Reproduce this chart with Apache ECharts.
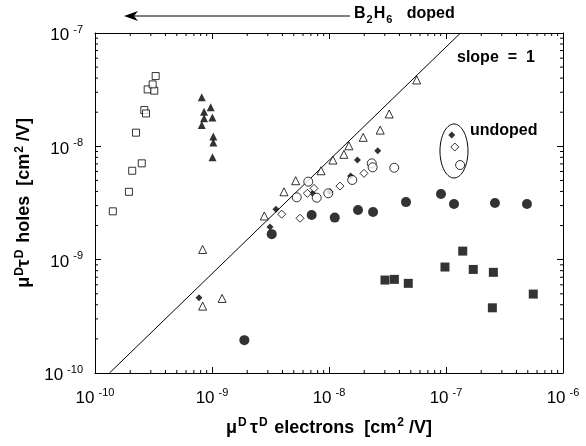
<!DOCTYPE html>
<html><head><meta charset="utf-8">
<script src="https://cdn.jsdelivr.net/npm/echarts@6/dist/echarts.min.js"></script>
<style>html,body{margin:0;padding:0;background:#fff}#c{width:586px;height:446px}</style>
</head><body><div id="c"></div>
<script>
// ---- data ----
const openSquareX = [1.42e-10, 1.95e-10, 2.08e-10, 2.51e-10, 2.24e-10, 2.64e-10, 2.73e-10, 2.82e-10, 3.21e-10, 3.11e-10, 3.30e-10];
const openSquareY = [2.67e-9, 3.97e-9, 6.09e-9, 7.08e-9, 1.32e-8, 2.09e-8, 1.95e-8, 3.18e-8, 3.10e-8, 3.52e-8, 4.17e-8];

const filledTriangleX = [8.17e-10, 9.75e-10, 8.55e-10, 1.007e-9, 8.55e-10, 8.17e-10, 1.026e-9, 1.026e-9, 1.01e-9];
const filledTriangleY = [2.71e-8, 2.21e-8, 2.02e-8, 1.80e-8, 1.77e-8, 1.54e-8, 1.22e-8, 1.08e-8, 8.0e-9];

const openTriangleX = [8.32e-10, 8.32e-10, 1.22e-9, 2.80e-9, 4.12e-9, 5.19e-9, 8.55e-9, 1.08e-8, 1.34e-8, 1.48e-8, 1.96e-8, 2.74e-8, 3.27e-8, 5.62e-8];
const openTriangleY = [1.23e-9, 3.89e-10, 4.55e-10, 2.43e-9, 3.97e-9, 4.97e-9, 6.09e-9, 7.57e-9, 8.5e-9, 1.01e-8, 1.20e-8, 1.39e-8, 1.93e-8, 3.85e-8];

const filledCircleX = [1.89e-9, 3.24e-9, 7.11e-9, 1.12e-8, 1.77e-8, 2.38e-8, 4.55e-8, 9.06e-8, 1.17e-7, 2.62e-7, 4.92e-7];
const filledCircleY = [1.95e-10, 1.68e-9, 2.48e-9, 2.35e-9, 2.74e-9, 2.63e-9, 3.22e-9, 3.79e-9, 3.10e-9, 3.16e-9, 3.10e-9];

const filledSquareX = [3.01e-8, 3.62e-8, 4.76e-8, 9.8e-8, 1.39e-7, 1.71e-7, 2.54e-7, 2.49e-7, 5.57e-7];
const filledSquareY = [6.61e-10, 6.70e-10, 6.18e-10, 8.61e-10, 1.19e-9, 8.2e-10, 7.73e-10, 3.76e-10, 4.97e-10];

const filledDiamondX = [7.74e-10, 3.13e-9, 3.52e-9, 7.24e-9, 1.02e-8, 1.53e-8, 1.75e-8, 2.61e-8, 1.12e-7];
const filledDiamondY = [4.61e-10, 1.94e-9, 2.78e-9, 3.85e-9, 3.97e-9, 5.46e-9, 7.57e-9, 9.14e-9, 1.26e-8];

const openDiamondX = [3.94e-9, 5.65e-9, 6.53e-9, 7.45e-9, 1.24e-8, 1.99e-8, 1.19e-7];
const openDiamondY = [2.52e-9, 2.32e-9, 3.85e-9, 4.26e-9, 4.46e-9, 5.78e-9, 9.86e-9];

const openCircleX = [5.3e-9, 6.65e-9, 7.85e-9, 9.86e-9, 1.58e-8, 2.32e-8, 2.36e-8, 3.61e-8, 1.32e-7];
const openCircleY = [3.55e-9, 4.88e-9, 3.52e-9, 3.85e-9, 5.05e-9, 7.08e-9, 6.53e-9, 6.47e-9, 6.84e-9];

const slopeLineX = [1.33e-10, 1.33e-7];
const slopeLineY = [1e-10, 1e-7];

const undopedCenter = [1.17e-7, 9.1e-9];

const xRange = [1e-10, 1e-6];
const yRange = [1e-10, 1e-7];
const minorMultipliers = [2, 3, 4, 5, 6, 7, 8, 9];
const xDecades = [-10, -9, -8, -7];
const yDecades = [-10, -9, -8];

// ---- helpers ----
const zip = (xs, ys) => xs.map((x, i) => [x, ys[i]]);
const FONT = '"Liberation Sans", Arial, Helvetica, sans-serif';
const expLabel = v => '{b|10}{s|' + Math.round(Math.log10(v)) + '}';
const tickRich = {
  b: { fontSize: 17, fontFamily: FONT, color: '#000', lineHeight: 22, verticalAlign: 'bottom' },
  s: { fontSize: 11, fontFamily: FONT, color: '#000', lineHeight: 22, verticalAlign: 'bottom', padding: [0, 0, 9, 4] }
};
const nameRich = {
  m: { fontSize: 18, fontWeight: 'bold', fontFamily: FONT, color: '#000', lineHeight: 22, verticalAlign: 'bottom' },
  p: { fontSize: 12, fontWeight: 'bold', fontFamily: FONT, color: '#000', lineHeight: 22, verticalAlign: 'bottom', padding: [0, 0, 8, 1] }
};

const minorX = [];
xDecades.forEach(d => minorMultipliers.forEach(k => minorX.push([k * Math.pow(10, d), 1e-9])));
const minorY = [];
yDecades.forEach(d => minorMultipliers.forEach(k => minorY.push([1e-8, k * Math.pow(10, d)])));

const lineStyle = { stroke: '#000', lineWidth: 1 };
const scatter = (xs, ys, symbol, size, filled, extra) => Object.assign({
  type: 'scatter', data: zip(xs, ys), symbol: symbol, symbolSize: size,
  itemStyle: filled ? { color: '#000', borderColor: '#000', borderWidth: 0 }
                    : { color: '#fff', borderColor: '#000', borderWidth: 1 },
  z: 5, silent: true
}, extra || {});

const baseAxis = {
  type: 'log', logBase: 10,
  axisLine: { show: true, onZero: false, lineStyle: { color: '#000', width: 1 } },
  axisTick: { show: true, inside: true, length: 6, lineStyle: { color: '#000', width: 1 } },
  splitLine: { show: false },
  minorTick: { show: false }
};

const chart = echarts.init(document.getElementById('c'), null, { renderer: 'canvas' });
chart.setOption({
  animation: false,
  backgroundColor: '#fff',
  grid: { left: 95, right: 23, top: 33, bottom: 73, containLabel: false },
  xAxis: [
    Object.assign({}, baseAxis, {
      position: 'bottom', min: xRange[0], max: xRange[1],
      axisLabel: { formatter: expLabel, rich: tickRich, margin: 12 },
      name: '{m|μ}{p|D} {m|τ}{p|D}  {m|electrons  [cm}{p|2}{m| /V]}',
      nameLocation: 'middle', nameGap: 42, nameTextStyle: { rich: nameRich }
    }),
    Object.assign({}, baseAxis, {
      position: 'top', min: xRange[0], max: xRange[1], axisLabel: { show: false }
    })
  ],
  yAxis: [
    Object.assign({}, baseAxis, {
      position: 'left', min: yRange[0], max: yRange[1],
      axisLabel: { formatter: expLabel, rich: tickRich, margin: 12 },
      name: '{m|μ}{p|D}{m|τ}{p|D}  {m|holes  [cm}{p|2}{m| /V]}',
      nameLocation: 'middle', nameGap: 55, nameRotate: 90, nameTextStyle: { rich: nameRich }
    }),
    Object.assign({}, baseAxis, {
      position: 'right', min: yRange[0], max: yRange[1], axisLabel: { show: false }
    })
  ],
  series: [
    {
      type: 'line', data: zip(slopeLineX, slopeLineY), symbol: 'none',
      lineStyle: { color: '#000', width: 1 }, z: 3, silent: true
    },
    {
      type: 'custom', data: minorX, silent: true, z: 2,
      renderItem: (params, api) => {
        const v = api.value(0);
        const b = api.coord([v, yRange[0]]);
        const t = api.coord([v, yRange[1]]);
        return { type: 'group', children: [
          { type: 'line', shape: { x1: b[0], y1: b[1], x2: b[0], y2: b[1] - 3 }, style: lineStyle },
          { type: 'line', shape: { x1: t[0], y1: t[1], x2: t[0], y2: t[1] + 3 }, style: lineStyle }
        ]};
      }
    },
    {
      type: 'custom', data: minorY, silent: true, z: 2,
      renderItem: (params, api) => {
        const v = api.value(1);
        const l = api.coord([xRange[0], v]);
        const r = api.coord([xRange[1], v]);
        return { type: 'group', children: [
          { type: 'line', shape: { x1: l[0], y1: l[1], x2: l[0] + 3, y2: l[1] }, style: lineStyle },
          { type: 'line', shape: { x1: r[0], y1: r[1], x2: r[0] - 3, y2: r[1] }, style: lineStyle }
        ]};
      }
    },
    {
      type: 'custom', data: [undopedCenter], silent: true, z: 4,
      renderItem: (params, api) => {
        const c = api.coord([api.value(0), api.value(1)]);
        const pts = [];
        for (let i = 0; i < 72; i++) {
          const a = i / 72 * Math.PI * 2;
          pts.push([c[0] + 14 * Math.cos(a), c[1] + 27 * Math.sin(a)]);
        }
        return { type: 'polygon', shape: { points: pts }, style: { fill: null, stroke: '#000', lineWidth: 1 } };
      }
    },
    scatter(openSquareX, openSquareY, 'rect', 7, false),
    scatter(filledTriangleX, filledTriangleY, 'triangle', 8, true),
    scatter(openTriangleX, openTriangleY, 'triangle', 8, false),
    scatter(filledCircleX, filledCircleY, 'circle', 10, true),
    scatter(filledSquareX, filledSquareY, 'rect', 9, true),
    scatter(filledDiamondX, filledDiamondY, 'diamond', 7, true),
    scatter(openDiamondX, openDiamondY, 'diamond', 8, false),
    scatter(openCircleX, openCircleY, 'circle', 9, false)
  ],
  graphic: [
    { type: 'line', shape: { x1: 130, y1: 16, x2: 350, y2: 16 }, style: { stroke: '#000', lineWidth: 1 } },
    { type: 'polygon', shape: { points: [[124, 16], [138, 11], [134, 16], [138, 21]] }, style: { fill: '#000' } },
    { type: 'text', left: 354, top: 6, style: {
        text: '{t|B}{u|2}{t|H}{u|6}{t|   doped}', font: 'bold 16px ' + FONT,
        rich: { t: { fontSize: 16, fontWeight: 'bold', fontFamily: FONT, lineHeight: 20, verticalAlign: 'bottom' },
                u: { fontSize: 11, fontWeight: 'bold', fontFamily: FONT, lineHeight: 20, verticalAlign: 'bottom', padding: [0, 1, -3, 1] } } } },
    { type: 'text', left: 457, top: 50, style: { text: 'slope  =  1', font: 'bold 16px ' + FONT, fill: '#000' } },
    { type: 'text', left: 470, top: 123, style: { text: 'undoped', font: 'bold 16px ' + FONT, fill: '#000' } }
  ]
});
</script>
</body></html>
